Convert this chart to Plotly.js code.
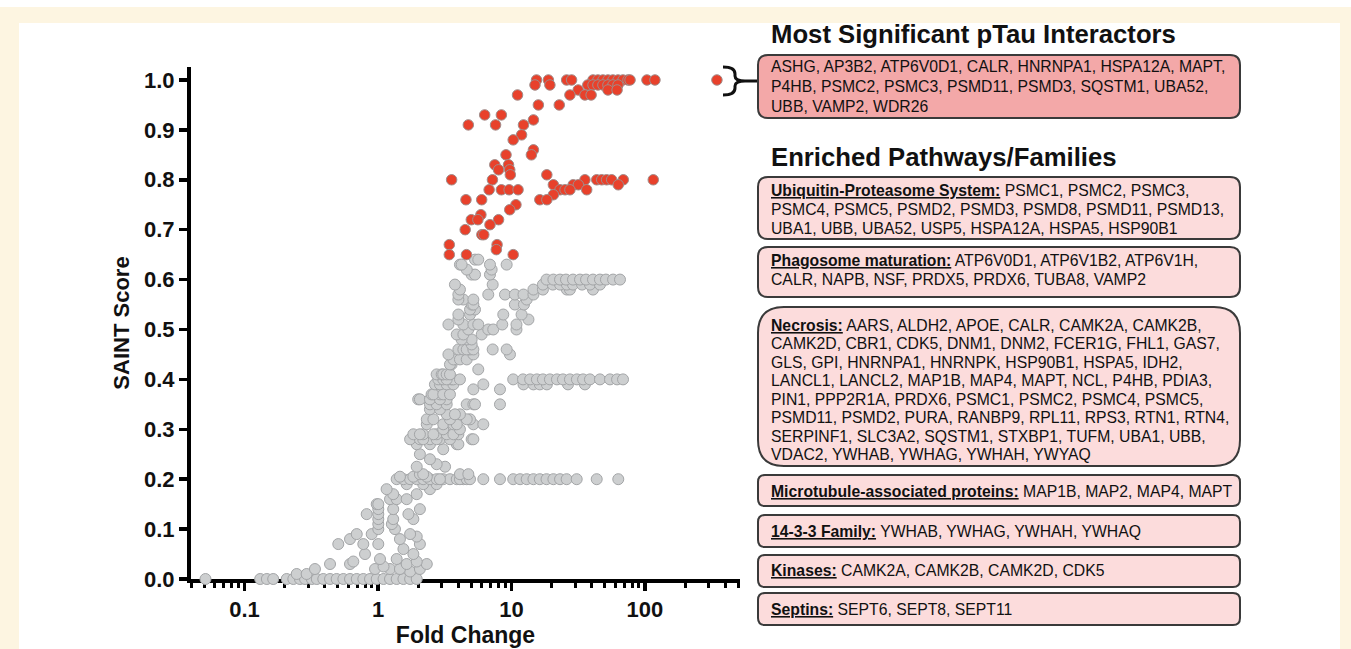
<!DOCTYPE html>
<html><head><meta charset="utf-8">
<script src="https://cdn.plot.ly/plotly-3.0.1.min.js"></script>
<style>html,body{margin:0;padding:0;background:#fdf5e1;} #chart{width:1351px;height:649px;}</style>
</head><body><div id="chart"></div>
<script>
// ---------- DATA ----------
// Red: most significant interactors (SAINT score level -> fold changes)
const redLevels = [1.00, 0.99, 0.98, 0.97, 0.95, 0.93, 0.92, 0.91, 0.89, 0.88, 0.86, 0.85, 0.83, 0.82, 0.81, 0.80, 0.79, 0.78, 0.77, 0.76, 0.75, 0.74, 0.73, 0.72, 0.71, 0.70, 0.69, 0.67, 0.66, 0.65];
const redFolds = [
  [15.4, 18.9, 25.9, 28.2, 40.8, 44.4, 48.4, 52.8, 57.5, 62.8, 68.4, 74.6, 77.3, 103.5, 118.8, 346],
  [15.0, 19.4, 37.3, 40.8, 44.4, 48.4, 52.8, 57.5, 62.8],
  [31.6, 52.8, 61.8],
  [27.4, 35.5, 39.5, 11.1],
  [15.9, 22.8],
  [6.3, 8.4],
  [14.6],
  [4.75, 7.6, 12.3],
  [11.9],
  [10.3],
  [14.6],
  [14.1, 9.1],
  [7.5, 9.5],
  [8.0, 9.7],
  [9.8, 18.4],
  [3.56, 7.2, 35.5, 43.5, 47.4, 51.6, 56.3, 68.8, 115.4],
  [20.6, 29.0, 31.7, 63.1],
  [23.1, 25.2, 27.4, 36.6, 6.8, 8.4, 9.6, 11.2],
  [20.6],
  [16.3, 18.4, 4.56, 5.98],
  [10.8],
  [9.7],
  [5.9],
  [5.0, 5.6, 8.0],
  [6.9],
  [4.5],
  [6.0, 6.2],
  [3.42, 7.8],
  [7.7],
  [3.42, 4.6, 10.3]
];
// Grey: all other proteins
const greyLevels = [0.00, 0.01, 0.015, 0.02, 0.025, 0.03, 0.035, 0.04, 0.05, 0.06, 0.07, 0.08, 0.085, 0.09, 0.10, 0.11, 0.12, 0.13, 0.14, 0.15, 0.16, 0.17, 0.18, 0.19, 0.20, 0.205, 0.21, 0.225, 0.23, 0.24, 0.25, 0.26, 0.27, 0.28, 0.29, 0.30, 0.31, 0.32, 0.33, 0.34, 0.35, 0.36, 0.37, 0.38, 0.39, 0.40, 0.41, 0.42, 0.43, 0.44, 0.45, 0.46, 0.47, 0.48, 0.49, 0.50, 0.51, 0.52, 0.53, 0.54, 0.55, 0.56, 0.57, 0.58, 0.59, 0.60, 0.61, 0.62, 0.63, 0.64];
const greyFolds = [
  [0.051, 0.131, 0.147, 0.164, 0.207, 0.232, 0.26, 0.284, 0.319, 0.348, 0.389, 0.437, 0.49, 0.55, 0.617, 0.693, 0.776, 0.871, 0.978, 1.10, 1.23, 1.38, 1.55, 1.74, 1.95],
  [0.246, 0.292],
  [1.74],
  [0.337, 0.95, 1.23, 1.46, 2.06],
  [1.10],
  [0.437, 0.617, 1.64, 2.32],
  [0.653, 1.95],
  [1.035, 1.38],
  [1.84, 0.799],
  [1.55],
  [0.504, 0.776, 1.005, 2.06],
  [0.617, 1.46],
  [1.95],
  [0.693, 0.897, 1.74],
  [1.005, 1.34],
  [1.005, 1.27],
  [1.005, 1.30, 1.84],
  [0.823, 1.005, 1.69],
  [1.005, 1.30, 2.06],
  [0.978, 1.005],
  [1.23, 1.38, 1.64],
  [1.30, 1.95],
  [1.16, 2.45],
  [1.64, 2.18, 2.75],
  [1.38, 1.55, 1.74, 1.95, 2.18, 2.45, 2.75, 3.08, 3.46, 3.89, 4.36, 2.91, 4.11, 4.62, 4.89, 6.15, 8.2, 10.3, 11.6, 13.0, 14.6, 16.3, 18.3, 20.6, 23.1, 25.9, 30.8, 43.5, 63.1],
  [1.46, 1.84, 2.32],
  [2.06, 2.18, 4.11, 4.75],
  [1.95, 3.18],
  [2.75],
  [2.45],
  [2.06],
  [3.08],
  [1.95, 2.45, 3.89, 4.0],
  [1.74, 2.06, 2.45, 2.91, 3.46, 5.03, 2.18, 2.75, 5.18],
  [1.84, 2.18, 2.75, 3.27, 4.0, 2.06, 2.6, 3.67],
  [4.11, 3.08],
  [2.32, 3.08, 3.67, 5.18, 6.15, 3.89],
  [4.89, 3.46, 4.62, 2.32, 2.6],
  [3.27, 4.11, 3.77],
  [2.45, 2.91],
  [2.45, 2.75, 3.27, 4.62, 5.18, 5.33, 8.2],
  [2.0, 2.06, 2.45, 3.27, 2.91],
  [2.52, 2.91, 2.6, 3.08, 3.46],
  [5.18, 8.2],
  [2.67, 2.91, 3.27, 3.67, 6.15, 12.3, 14.6, 16.3, 18.4, 26.5, 35.5],
  [2.83, 3.08, 3.56, 3.67, 4.11, 3.27, 10.3, 12.2, 13.8, 15.5, 17.2, 19.4, 21.9, 24.3, 27.4, 30.9, 34.4, 38.7, 46.0, 54.7, 61.8, 68.5],
  [2.75, 3.0, 3.08, 3.27, 3.46],
  [5.64],
  [3.56, 3.46],
  [3.67, 4.11, 4.62],
  [3.37, 5.18, 9.74],
  [4.0, 4.36, 4.89, 7.23, 9.2, 4.62, 5.18],
  [5.03],
  [4.62, 5.03, 4.23],
  [3.89, 4.36, 5.98],
  [10.9, 6.7, 7.3, 4.75],
  [3.37, 4.36, 5.18, 5.64, 10.9, 8.53],
  [4.0, 13.4],
  [4.89, 8.68, 11.9, 4.0],
  [5.33, 4.89],
  [5.03, 10.6, 12.4, 5.18],
  [4.36, 5.18, 13.0, 4.0],
  [4.0, 6.7, 8.94, 10.6, 12.3, 14.6],
  [4.11, 14.6, 17.2, 26.0, 27.4, 40.8],
  [3.77, 7.23, 17.2, 20.4, 23.1, 26.0, 28.9, 33.8, 38.7, 46.0],
  [18.3, 20.6, 23.1, 25.6, 28.9, 32.6, 36.2, 40.8, 46.0, 51.0, 57.7, 65.0],
  [5.03, 5.33, 6.9],
  [4.62, 7.1],
  [4.11, 6.9, 9.2, 4.23],
  [5.33, 5.64]
];
const yTickVals = [0, 0.1, 0.2, 0.3, 0.4, 0.5, 0.6, 0.7, 0.8, 0.9, 1.0];
const yTickText = ['0.0', '0.1', '0.2', '0.3', '0.4', '0.5', '0.6', '0.7', '0.8', '0.9', '1.0'];
const xTickVals = [0.1, 1, 10, 100];
const xTickText = ['0.1', '1', '10', '100'];

// Text panels
const headerTop = 'Most Significant pTau Interactors';
const headerPath = 'Enriched Pathways/Families';
const topLines = ['ASHG, AP3B2, ATP6V0D1, CALR, HNRNPA1, HSPA12A, MAPT,', 'P4HB, PSMC2, PSMC3, PSMD11, PSMD3, SQSTM1, UBA52,', 'UBB, VAMP2, WDR26'];
const ubiqHead = 'Ubiquitin-Proteasome System:';
const ubiqLines = [' PSMC1, PSMC2, PSMC3,', 'PSMC4, PSMC5, PSMD2, PSMD3, PSMD8, PSMD11, PSMD13,', 'UBA1, UBB, UBA52, USP5, HSPA12A, HSPA5, HSP90B1'];
const phagoHead = 'Phagosome maturation:';
const phagoLines = [' ATP6V0D1, ATP6V1B2, ATP6V1H,', 'CALR, NAPB, NSF, PRDX5, PRDX6, TUBA8, VAMP2'];
const necroHead = 'Necrosis:';
const necroLines = [' AARS, ALDH2, APOE, CALR, CAMK2A, CAMK2B,', 'CAMK2D, CBR1, CDK5, DNM1, DNM2, FCER1G, FHL1, GAS7,', 'GLS, GPI, HNRNPA1, HNRNPK, HSP90B1, HSPA5, IDH2,', 'LANCL1, LANCL2, MAP1B, MAP4, MAPT, NCL, P4HB, PDIA3,', 'PIN1, PPP2R1A, PRDX6, PSMC1, PSMC2, PSMC4, PSMC5,', 'PSMD11, PSMD2, PURA, RANBP9, RPL11, RPS3, RTN1, RTN4,', 'SERPINF1, SLC3A2, SQSTM1, STXBP1, TUFM, UBA1, UBB,', 'VDAC2, YWHAB, YWHAG, YWHAH, YWYAQ'];
const microHead = 'Microtubule-associated proteins:';
const microLines = [' MAP1B, MAP2, MAP4, MAPT'];
const famHead = '14-3-3 Family:';
const famLines = [' YWHAB, YWHAG, YWHAH, YWHAQ'];
const kinHead = 'Kinases:';
const kinLines = [' CAMK2A, CAMK2B, CAMK2D, CDK5'];
const sepHead = 'Septins:';
const sepLines = [' SEPT6, SEPT8, SEPT11'];

// ---------- BUILD ----------
const FONT = 'Liberation Sans, Arial, Helvetica, sans-serif';
function flatten(levels, folds) {
  const x = [], y = [];
  levels.forEach((s, i) => folds[i].forEach(f => { x.push(f); y.push(s); }));
  return {x, y};
}
const grey = flatten(greyLevels, greyFolds);
const red = flatten(redLevels, redFolds);

const L = 191, T = 67, W = 549, H = 512;
const X = p => (p - L) / W;
const Y = p => (T + H - p) / H;
const P = s => s.replace(/(-?[\d.]+)\s+(-?[\d.]+)/g, (m, a, b) => X(+a).toFixed(5) + ',' + Y(+b).toFixed(5));

function rr(x0, y0, x1, y1, r) {
  return P(`M ${x0 + r} ${y0} L ${x1 - r} ${y0} Q ${x1} ${y0} ${x1} ${y0 + r} L ${x1} ${y1 - r} Q ${x1} ${y1} ${x1 - r} ${y1} L ${x0 + r} ${y1} Q ${x0} ${y1} ${x0} ${y1 - r} L ${x0} ${y0 + r} Q ${x0} ${y0} ${x0 + r} ${y0} Z`);
}

const shapes = [
  {type: 'rect', xref: 'paper', yref: 'paper', x0: X(19), x1: X(1340), y0: Y(23), y1: Y(652), fillcolor: '#ffffff', line: {width: 0}, layer: 'below'},
  {type: 'rect', xref: 'paper', yref: 'paper', x0: X(-5), x1: X(1356), y0: Y(-5), y1: Y(7), fillcolor: '#ffffff', line: {width: 0}, layer: 'below'}
];
const boxes = [
  {y0: 55, y1: 118, r: 10, fill: '#f3a8a8'},
  {y0: 177, y1: 239, r: 10, fill: '#fcdcdc'},
  {y0: 247, y1: 297, r: 10, fill: '#fcdcdc'},
  {y0: 307, y1: 466, r: 26, fill: '#fcdcdc'},
  {y0: 475, y1: 506, r: 7, fill: '#fcdcdc'},
  {y0: 515, y1: 547, r: 7, fill: '#fcdcdc'},
  {y0: 555, y1: 587, r: 7, fill: '#fcdcdc'},
  {y0: 593, y1: 625, r: 7, fill: '#fcdcdc'}
];
boxes.forEach(b => shapes.push({type: 'path', xref: 'paper', yref: 'paper', path: rr(758, b.y0, 1240, b.y1, b.r), fillcolor: b.fill, line: {color: '#3a3a3a', width: 2}}));
// brace
shapes.push({type: 'path', xref: 'paper', yref: 'paper', path: P('M 723 67 Q 735 67 735 74 L 735 76 Q 735 81 745 81 Q 735 81 735 86 L 735 88 Q 735 95 723 95'), line: {color: '#111', width: 3}});
shapes.push({type: 'path', xref: 'paper', yref: 'paper', path: P('M 745 81 L 757 81'), line: {color: '#111', width: 3}});

const annotations = [];
function txt(x, y, text, size, bold) {
  annotations.push({xref: 'paper', yref: 'paper', x: X(x), y: Y(y), xanchor: 'left', yanchor: 'middle', showarrow: false, align: 'left', text: text,
    font: {family: FONT, size: size, color: '#111', weight: bold ? 'bold' : 'normal'}});
}
const BODY = 15.75;
txt(769, 34, headerTop, 25.7, true);
txt(769, 157, headerPath, 25.7, true);
function block(head, lines, ys) {
  lines.forEach((ln, i) => {
    let t = ln;
    if (i === 0 && head) t = '<b><span style="text-decoration:underline">' + head + '</span></b>' + ln;
    txt(769, ys[i], t, BODY, false);
  });
}
block(null, topLines, [66.5, 86.5, 106.5]);
block(ubiqHead, ubiqLines, [190, 209, 228]);
block(phagoHead, phagoLines, [260, 279]);
block(necroHead, necroLines, [325, 343.5, 362, 380.5, 399, 417.5, 436, 454.5]);
block(microHead, microLines, [491]);
block(famHead, famLines, [531]);
block(kinHead, kinLines, [570.5]);
block(sepHead, sepLines, [609]);

const minorVals = [];
[0.01, 0.1, 1, 10, 100].forEach(d => { for (let k = 2; k <= 9; k++) minorVals.push(d * k); });

const traces = [
  {type: 'scatter', mode: 'markers', x: grey.x, y: grey.y, cliponaxis: false, name: 'Other',
   marker: {size: 11, color: '#cdcfd0', line: {color: '#a3a5a7', width: 1}}},
  {type: 'scatter', mode: 'markers', x: red.x, y: red.y, cliponaxis: false, name: 'Significant',
   marker: {size: 10.5, color: '#e8412b', line: {color: '#a08c8a', width: 1}}}
];

const axisFont = {family: FONT, size: 22, color: '#111', weight: 'bold'};
const layout = {
  width: 1351, height: 649,
  margin: {l: L, r: 1351 - L - W, t: T, b: 649 - T - H, pad: 0},
  paper_bgcolor: '#fdf5e1', plot_bgcolor: 'rgba(0,0,0,0)',
  showlegend: false,
  xaxis: {type: 'log', range: [-1.401, 2.712], showgrid: false, zeroline: false,
    showline: true, linewidth: 4, linecolor: '#000', layer: 'below traces',
    ticks: 'outside', ticklen: 8, tickwidth: 3.5, tickcolor: '#000',
    tickmode: 'array', tickvals: xTickVals, ticktext: xTickText, tickfont: axisFont,
    minor: {tickmode: 'array', tickvals: minorVals, ticks: 'outside', ticklen: 5, tickwidth: 3, tickcolor: '#000', showgrid: false},
    title: {text: 'Fold Change', font: {family: FONT, size: 23, color: '#111', weight: 'bold'}, standoff: 4}},
  yaxis: {range: [0, 1.026], showgrid: false, zeroline: false,
    showline: true, linewidth: 4, linecolor: '#000', layer: 'below traces',
    ticks: 'outside', ticklen: 8, tickwidth: 3.5, tickcolor: '#000',
    tickmode: 'array', tickvals: yTickVals, ticktext: yTickText, tickfont: axisFont,
    title: {text: 'SAINT Score', font: {family: FONT, size: 22, color: '#111', weight: 'bold'}, standoff: 9}},
  shapes: shapes,
  annotations: annotations
};
Plotly.newPlot('chart', traces, layout, {displayModeBar: false, staticPlot: true});
</script></body></html>
